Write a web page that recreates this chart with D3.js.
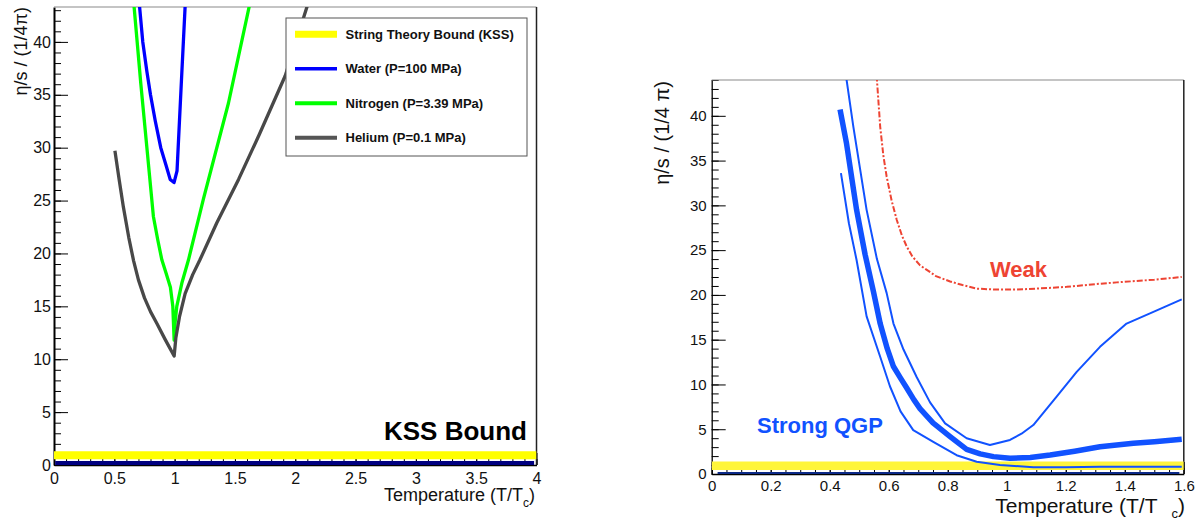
<!DOCTYPE html>
<html>
<head>
<meta charset="utf-8">
<script src="https://cdn.jsdelivr.net/npm/d3@7"></script>
<style>
  body { margin: 0; background: #fff; }
  svg { display: block; font-family: "Liberation Sans", Arial, Helvetica, sans-serif; }
</style>
</head>
<body>
<svg id="chart" width="1201" height="523"></svg>
<script>
"use strict";

// ---- left panel: fluids near their critical point ----
const waterT   = [0.70, 0.736, 0.77, 0.80, 0.84, 0.885, 0.93, 0.963, 0.995, 1.02, 1.055, 1.092];
const waterEta = [44.5, 40, 37.2, 35, 32.5, 30, 28.3, 27, 26.7, 27.8, 36, 44.5];

const nitroT   = [0.655, 0.72, 0.77, 0.824, 0.86, 0.894, 0.93, 0.965, 0.985, 0.996, 1.004, 1.018, 1.06, 1.115, 1.24, 1.446, 1.64];
const nitroEta = [44.5, 36, 30, 23.5, 21.3, 19.4, 18.1, 16.8, 15, 11.8, 13.5, 15, 17.2, 19.4, 25.2, 34.2, 44.5];

const heliumT   = [0.505, 0.54, 0.575, 0.62, 0.66, 0.70, 0.75, 0.80, 0.852, 0.92, 0.996, 1.01, 1.04, 1.087, 1.15, 1.21, 1.35, 1.53, 1.70, 1.917, 2.13];
const heliumEta = [29.7, 27, 24.4, 21.5, 19.3, 17.5, 15.8, 14.5, 13.4, 11.9, 10.3, 12, 14, 16.2, 18, 19.4, 22.9, 27, 31.2, 36.8, 44.5];

const kssLeftT = [0, 4];
const kssEta = [0.93, 0.93];
const baseLeftT = [0.01, 3.98];
const baseLeftEta = [0.15, 0.15];

const leftXTicks = [0, 0.5, 1, 1.5, 2, 2.5, 3, 3.5, 4];
const leftYTicks = [0, 5, 10, 15, 20, 25, 30, 35, 40];

const legendLabels = ["String Theory Bound (KSS)", "Water (P=100 MPa)", "Nitrogen (P=3.39 MPa)", "Helium (P=0.1 MPa)"];

// ---- right panel: QGP ----
const strongT   = [0.435, 0.457, 0.491, 0.52, 0.548, 0.571, 0.595, 0.616, 0.64, 0.661, 0.685, 0.706, 0.75, 0.808, 0.864, 0.91, 0.955, 1.011, 1.08, 1.147, 1.23, 1.316, 1.429, 1.5, 1.593];
const strongEta = [40.7, 36.9, 29.5, 24.5, 20.4, 16.8, 14.0, 12.0, 10.7, 9.6, 8.3, 7.3, 5.7, 4.17, 2.75, 2.25, 1.94, 1.75, 1.85, 2.12, 2.55, 3.05, 3.43, 3.6, 3.87];

const upperT   = [0.455, 0.48, 0.525, 0.56, 0.593, 0.616, 0.65, 0.695, 0.74, 0.791, 0.864, 0.943, 1.011, 1.05, 1.09, 1.169, 1.237, 1.316, 1.406, 1.497, 1.593];
const upperEta = [44.5, 38.8, 29.5, 24, 20.2, 16.8, 13.9, 10.8, 8.0, 5.66, 3.99, 3.24, 3.8, 4.5, 5.47, 8.64, 11.4, 14.2, 16.8, 18.1, 19.5];

const lowerT   = [0.438, 0.465, 0.491, 0.525, 0.571, 0.604, 0.64, 0.683, 0.751, 0.83, 0.898, 0.977, 1.09, 1.2, 1.316, 1.593];
const lowerEta = [33.6, 28, 23.9, 17.6, 13.1, 9.8, 7.0, 4.9, 3.6, 2.1, 1.37, 1.0, 0.75, 0.75, 0.8, 0.8];

const weakT   = [0.559, 0.571, 0.582, 0.593, 0.61, 0.627, 0.645, 0.661, 0.68, 0.706, 0.729, 0.76, 0.808, 0.85, 0.898, 0.96, 1.034, 1.1, 1.203, 1.3, 1.373, 1.5, 1.593];
const weakEta = [44.5, 38.8, 35.5, 33.2, 30.5, 28.4, 26.6, 25.4, 24.3, 23.3, 22.8, 22.1, 21.5, 21.1, 20.7, 20.6, 20.6, 20.7, 20.9, 21.2, 21.4, 21.7, 22.0];

const kssRightT = [0, 1.6];
const baseRightT = [0.02, 1.585];
const baseRightEta = [0, 0];

const rightXTicks = [0, 0.2, 0.4, 0.6, 0.8, 1, 1.2, 1.4, 1.6];
const rightYTicks = [0, 5, 10, 15, 20, 25, 30, 35, 40];

const svg = d3.select("#chart");
const fmt = d3.format("~g");
const zip = (xs, ys) => xs.map((x, i) => [x, ys[i]]);

function drawFrame(g, x, y, o) {
  let [x0, x1] = x.range(), [y0, y1] = y.range();

  // minor ticks first, then major ones
  g.append("g").attr("transform", `translate(0,${y0})`)
    .call(d3.axisBottom(x).tickValues(o.xMinor).tickSize(-o.xMinorLen).tickFormat("").tickSizeOuter(0))
    .call(a => a.select(".domain").remove());
  g.append("g").attr("transform", `translate(${x0},0)`)
    .call(d3.axisLeft(y).tickValues(o.yMinor).tickSize(-7).tickFormat("").tickSizeOuter(0))
    .call(a => a.select(".domain").remove());

  let xa = g.append("g").attr("transform", `translate(0,${y0})`)
    .call(d3.axisBottom(x).tickValues(o.xTicks).tickSize(-o.xMajorLen).tickPadding(o.xPad).tickFormat(fmt).tickSizeOuter(0));
  xa.select(".domain").attr("stroke", "#000").attr("stroke-width", 1.5);
  xa.selectAll("text").attr("font-size", o.labelSize).attr("fill", "#111");

  let ya = g.append("g").attr("transform", `translate(${x0},0)`)
    .call(d3.axisLeft(y).tickValues(o.yTicks).tickSize(-14).tickPadding(o.yPad).tickFormat(fmt).tickSizeOuter(0));
  ya.select(".domain").attr("stroke", "#000").attr("stroke-width", o.yAxisWidth);
  ya.selectAll("text").attr("font-size", o.labelSize).attr("fill", "#111");

  g.selectAll(".tick line").attr("stroke", "#000").attr("stroke-width", 1);

  // top and right borders of the frame
  g.append("line").attr("x1", x0).attr("x2", x1).attr("y1", y1).attr("y2", y1)
    .attr("stroke", "#8a8a8a").attr("stroke-width", 1.2);
  g.append("line").attr("x1", x1).attr("x2", x1).attr("y1", y1).attr("y2", y0)
    .attr("stroke", "#222").attr("stroke-width", 1.5);
}

function addClip(id, x, y) {
  let [x0, x1] = x.range(), [y0, y1] = y.range();
  svg.append("clipPath").attr("id", id).append("rect")
    .attr("x", x0).attr("y", y1).attr("width", x1 - x0).attr("height", y0 - y1);
}

// ================= left panel =================
{
  const x = d3.scaleLinear().domain([0, 4]).range([54, 536.5]);
  const y = d3.scaleLinear().domain([0, 43.3]).range([465, 7]);
  const line = d3.line().x(d => x(d[0])).y(d => y(d[1]));
  addClip("clipL", x, y);

  const g = svg.append("g");
  drawFrame(g, x, y, {
    xTicks: leftXTicks, xMinor: d3.range(0, 4.001, 0.1), yTicks: leftYTicks, yMinor: d3.range(0, 44, 1),
    xMajorLen: 12, xMinorLen: 6, xPad: 8, yPad: 3, labelSize: 16, yAxisWidth: 2
  });

  const plot = g.append("g").attr("clip-path", "url(#clipL)");
  plot.append("path").datum(zip(kssLeftT, kssEta)).attr("d", line)
    .attr("fill", "none").attr("stroke", "#ffff00").attr("stroke-width", 8);
  plot.append("path").datum(zip(baseLeftT, baseLeftEta)).attr("d", line)
    .attr("fill", "none").attr("stroke", "#000080").attr("stroke-width", 5);

  const series = [
    { data: zip(waterT, waterEta), color: "#0000ff" },
    { data: zip(nitroT, nitroEta), color: "#00ff00" },
    { data: zip(heliumT, heliumEta), color: "#484848" }
  ];
  plot.selectAll("path.curve").data(series).enter().append("path")
    .attr("class", "curve")
    .attr("d", d => line(d.data))
    .attr("fill", "none")
    .attr("stroke", d => d.color)
    .attr("stroke-width", 3.3)
    .attr("stroke-linejoin", "round");

  // legend
  const legend = g.append("g");
  legend.append("rect").attr("x", 286).attr("y", 18).attr("width", 241).attr("height", 138)
    .attr("fill", "#fff").attr("stroke", "#555").attr("stroke-width", 1);
  const swatch = [
    { color: "#ffff00", w: 7 }, { color: "#0000ff", w: 3.5 },
    { color: "#00ff00", w: 4 }, { color: "#555555", w: 4 }
  ];
  const rows = legend.selectAll("g.row").data(legendLabels).enter().append("g")
    .attr("class", "row")
    .attr("transform", (d, i) => `translate(0,${34.3 + i * 34.5})`);
  rows.append("line").attr("x1", 295).attr("x2", 337).attr("y1", 0).attr("y2", 0)
    .attr("stroke", (d, i) => swatch[i].color).attr("stroke-width", (d, i) => swatch[i].w);
  rows.append("text").attr("x", 345.5).attr("y", 0).attr("dy", "0.35em")
    .attr("font-size", 13).attr("font-weight", "bold").attr("fill", "#111")
    .text(d => d);

  g.append("text").attr("x", 527).attr("y", 440).attr("text-anchor", "end")
    .attr("font-size", 26).attr("font-weight", "bold").attr("fill", "#000")
    .text("KSS Bound");

  // axis titles
  g.append("text").attr("transform", "translate(27,7) rotate(-90)")
    .attr("text-anchor", "end").attr("font-size", 18).attr("fill", "#111")
    .text("η/s / (1/4π)");
  const xt = g.append("text").attr("x", 535).attr("y", 501).attr("text-anchor", "end")
    .attr("font-size", 18).attr("fill", "#111");
  xt.append("tspan").text("Temperature (T/T");
  xt.append("tspan").attr("dy", 6).attr("font-size", 12).text("c");
  xt.append("tspan").attr("dy", -6).text(")");
}

// ================= right panel =================
{
  const x = d3.scaleLinear().domain([0, 1.6]).range([711.7, 1183.8]);
  const y = d3.scaleLinear().domain([0, 44]).range([474, 80]);
  const line = d3.line().x(d => x(d[0])).y(d => y(d[1]));
  addClip("clipR", x, y);

  const g = svg.append("g");
  drawFrame(g, x, y, {
    xTicks: rightXTicks, xMinor: d3.range(0, 1.601, 0.05), yTicks: rightYTicks, yMinor: d3.range(0, 45, 1),
    xMajorLen: 12, xMinorLen: 6, xPad: 6.5, yPad: 5, labelSize: 15, yAxisWidth: 1.3
  });

  const plot = g.append("g").attr("clip-path", "url(#clipR)");
  plot.append("path").datum(zip(kssRightT, kssEta)).attr("d", line)
    .attr("fill", "none").attr("stroke", "#fff53a").attr("stroke-width", 8.5);
  plot.append("path").datum(zip(baseRightT, baseRightEta)).attr("d", line)
    .attr("fill", "none").attr("stroke", "#0c2a88").attr("stroke-width", 4);

  plot.append("path").datum(zip(weakT, weakEta)).attr("d", line)
    .attr("fill", "none").attr("stroke", "#ee4433").attr("stroke-width", 2)
    .attr("stroke-dasharray", "6,2,2,2");

  const bands = [
    { data: zip(upperT, upperEta), w: 2 },
    { data: zip(lowerT, lowerEta), w: 2 },
    { data: zip(strongT, strongEta), w: 5.5 }
  ];
  plot.selectAll("path.band").data(bands).enter().append("path")
    .attr("class", "band")
    .attr("d", d => line(d.data))
    .attr("fill", "none")
    .attr("stroke", "#1152ff")
    .attr("stroke-width", d => d.w)
    .attr("stroke-linejoin", "round");

  g.append("text").attr("x", 990).attr("y", 277).attr("font-size", 22).attr("font-weight", "bold")
    .attr("fill", "#ee4433").text("Weak");
  g.append("text").attr("x", 757).attr("y", 433).attr("font-size", 22).attr("font-weight", "bold")
    .attr("fill", "#1152ff").text("Strong QGP");

  g.append("text").attr("transform", "translate(669,81) rotate(-90)")
    .attr("text-anchor", "end").attr("font-size", 20).attr("fill", "#111")
    .text("η/s / (1/4 π)");
  const xt = g.append("text").attr("x", 1185).attr("y", 513).attr("text-anchor", "end")
    .attr("font-size", 21).attr("fill", "#111");
  xt.append("tspan").text("Temperature (T/T");
  xt.append("tspan").attr("dx", 14).attr("dy", 5).attr("font-size", 13).text("c");
  xt.append("tspan").attr("dy", -5).text(")");
}
</script>
</body>
</html>
